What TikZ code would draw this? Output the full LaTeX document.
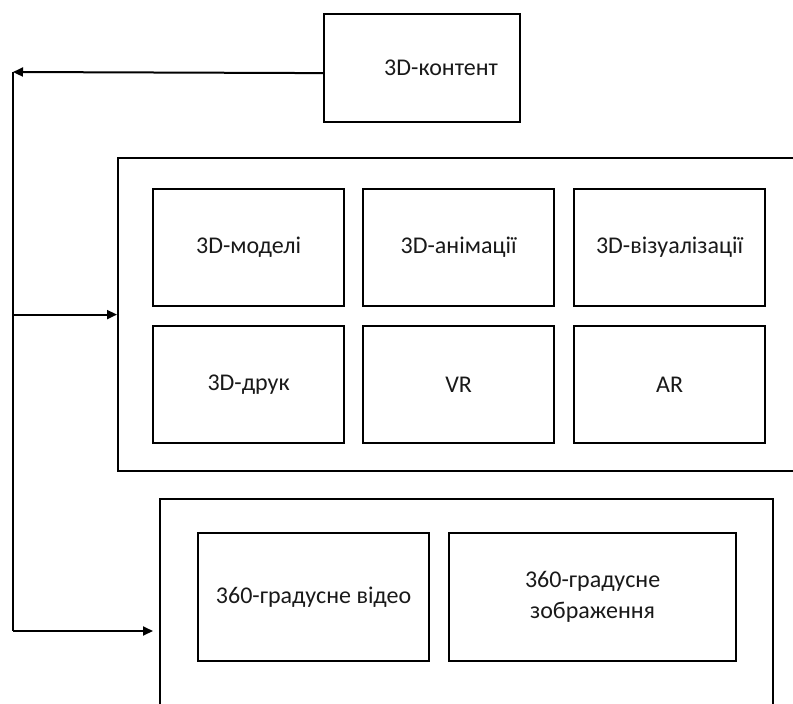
\documentclass[tikz,border=0pt]{standalone}
\usepackage{fontspec}
\setmainfont{Carlito}
\usetikzlibrary{arrows.meta}

\tikzset{
  frame/.style={draw, line width=2.2pt, anchor=north west, inner sep=0pt},
  item/.style={frame, font=\fontsize{24}{31}\selectfont, text=black!90, align=center},
  cell/.style={item, minimum width=191pt, minimum height=117pt},
  feed/.style={line width=2pt, -{Triangle[length=10pt,width=9pt]}}
}

\begin{document}
\begin{tikzpicture}[x=1pt, y=-1pt]
\useasboundingbox (0,0) rectangle (793,704);
\clip (0,0) rectangle (793,704);

\node[item, minimum width=196pt, minimum height=108pt] (content) at (323,13) {\hspace*{38pt}3D-контент};

\node[frame, minimum width=700pt, minimum height=313pt] (group3d) at (117,157) {};
\node[frame, minimum width=613pt, minimum height=240pt] (group360) at (159,498) {};

\node[cell] (models) at (152,188) {3D-моделі};
\node[cell] (anim) at (362,188) {3D-анімації};
\node[cell] (visual) at (573,188) {3D-візуалізації};
\node[cell] (print) at (152,325) {3D-друк};
\node[cell] (vr) at (362,325) {VR};
\node[cell] (ar) at (573,325) {AR};

\node[item, minimum width=231pt, minimum height=128pt] (video) at (197,532) {360-градусне відео};
\node[item, minimum width=287pt, minimum height=128pt] (image) at (448,532) {360-градусне\\зображення};

\coordinate (corner) at (13,72);
\coordinate (foot) at (13,631);
\coordinate (entry) at (153,631);

\draw[feed] ([yshift=-5pt]content.west) -- (corner);
\draw[line width=2pt] (corner) -- (foot);
\draw[feed] (corner |- group3d.west) -- (group3d.west);
\draw[feed] (foot) -- (entry);

\end{tikzpicture}
\end{document}
